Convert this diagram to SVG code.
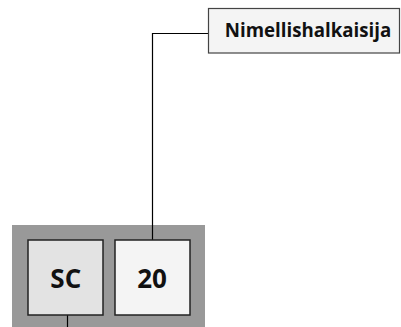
<svg xmlns="http://www.w3.org/2000/svg" width="401" height="327" viewBox="0 0 401 327">
<style>
.box{stroke:#222;stroke-width:1.5}
.t{font-family:"Open Sans","Noto Sans",sans-serif;font-weight:bold;fill:#111;text-anchor:middle}
.c{fill:none;stroke:#000;stroke-width:1.2}
</style>
<rect x="0" y="0" width="401" height="327" fill="#fff"/>
<g id="panel"><rect x="12" y="225" width="193" height="102" fill="#999"/></g>
<g id="connectors">
<polyline class="c" points="152.5,240 152.5,33.5 208,33.5"/>
<line class="c" x1="67.5" y1="315" x2="67.5" y2="327"/>
</g>
<g id="label">
<rect x="208.5" y="8.5" width="191" height="44.5" fill="#f4f4f4" stroke="#444" stroke-width="1.2"/>
<text class="t" x="308" y="36.7" font-size="18.7">Nimellishalkaisija</text>
</g>
<g id="sc">
<rect class="box" x="28" y="240" width="75" height="75" fill="#e3e3e3"/>
<text class="t" x="65.8" y="288.3" font-size="26">SC</text>
</g>
<g id="n20">
<rect class="box" x="115" y="240" width="75" height="75" fill="#f4f4f4"/>
<text class="t" x="152" y="288.3" font-size="26">20</text>
</g>
</svg>
